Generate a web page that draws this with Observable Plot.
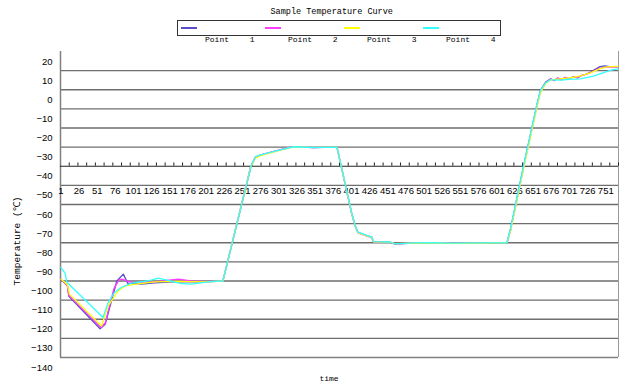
<!DOCTYPE html>
<html><head><meta charset="utf-8">
<script src="https://cdn.jsdelivr.net/npm/d3@7"></script>
<script src="https://cdn.jsdelivr.net/npm/@observablehq/plot@0.6"></script>
<style>
body{margin:0;background:#fff;}
#wrap{position:relative;width:622px;height:387px;overflow:hidden;}
#wrap svg{position:absolute;left:0;top:0;}
.abs{position:absolute;white-space:pre;color:#000;line-height:1;font-family:"Liberation Mono","DejaVu Sans Mono",monospace;}
.sw{position:absolute;height:2px;width:16px;}
</style></head><body><div id="wrap"></div>
<script>
const title = "Sample Temperature Curve";
const yTitle = "Temperature (℃)";
const xTitle = "time";
const seriesNames = ["Point 1", "Point 2", "Point 3", "Point 4"];
const seriesColors = ["#5a4ec8", "#ff3cff", "#ffff00", "#33ffff"];
const xDomain = [0.5, 768.5];
const yDomain = [-140, 20];
const xCross = -40;
const xLabels = d3.range(1, 752, 25);
const yTicks = d3.range(20, -141, -10);
const xTickMarks = d3.range(12.5, 769, 12);

const p1Idx = [1,6,10,12,55,62,78,87,93,100,112,130,150,175,200,224,263,269,276,303,321,335,349,365,381,401,406,410,422,429,431,445,454,461,486,509,540,580,615,620,638,656,661,668,675,680,685,690,695,700,706,712,718,724,730,737,743,750,758,768];
const p1Val = [-99,-101,-102.5,-108,-125,-122.6,-100,-96.4,-101.2,-101.2,-101.6,-101,-100.6,-100.3,-100.5,-100,-39.7,-35.3,-34.2,-31.5,-29.8,-30,-30.3,-30,-30,-64.1,-71.1,-74.6,-76.3,-77,-79.5,-79.4,-79.7,-80.7,-80.2,-80,-80.3,-80.2,-80,-72.8,-39.7,-8.3,-0.5,3.9,5.7,4.8,6.0,5.2,6.4,5.6,6.8,6.2,7.6,8.0,9.2,10.8,12.1,12.5,12.0,12.1];

const p2Idx = [1,6,10,12,56,62,74,81,85,92,100,130,150,163,180,200,224,262,268,276,303,321,349,381,401,406,410,422,429,431,454,461,486,509,540,580,615,620,638,656,661,668,675,680,685,690,695,700,706,712,718,724,730,743,753,768];
const p2Val = [-99,-101,-102.5,-107.5,-124.3,-122,-104,-99.4,-99,-100,-100.8,-100.5,-99.5,-99,-100,-100.3,-100,-40.5,-35.5,-34,-31.3,-29.7,-30.2,-30,-64.5,-71.3,-74.8,-76.5,-77.2,-79.6,-79.8,-80.6,-80.1,-80,-80.2,-80.1,-80,-73.5,-40.5,-9,-1,3.5,5.5,5.0,6.2,5.3,6.5,5.8,6.6,6.4,7.4,8.2,9.0,11.3,11.8,12.0];

const p3Idx = [1,6,10,13,57,66,80,90,104,130,160,200,224,262,268,276,303,321,349,381,401,406,410,422,429,431,454,461,486,509,540,580,615,620,638,656,661,668,675,685,695,705,716,730,743,753,768];
const p3Val = [-99,-100.5,-102,-107,-123.5,-113,-105.1,-102.5,-101.6,-100.5,-100.2,-100.5,-100,-40.8,-36,-34.5,-31.6,-29.9,-30.1,-30,-64.3,-71.2,-74.7,-76.4,-77.1,-79.5,-79.7,-80.5,-80.2,-80,-80.3,-80.2,-80,-73.8,-41,-9.5,-1.5,3.2,5.2,5.6,6.0,6.4,7.2,8.8,11.0,12.0,12.2];

const p4Idx = [1,7,9,59,66,75,84,98,112,125,135,150,165,180,196,210,224,263,269,276,303,321,349,381,401,406,410,422,429,431,454,461,486,509,540,580,615,620,638,656,661,668,675,690,700,716,734,757,768];
const p4Val = [-92.9,-96,-100.5,-119.1,-111.3,-106,-103.4,-101.1,-100.4,-99.5,-98.5,-99.8,-101.2,-101.6,-100.8,-100.2,-100,-39.5,-35,-34,-31.4,-29.8,-30.2,-30,-64,-71,-74.5,-76.2,-77,-79.4,-79.6,-80.6,-80.1,-80,-80.2,-80.1,-80,-72.5,-39.5,-8,-0.5,3.5,5.2,5.0,5.5,5.7,7.1,10.1,10.9];

const seriesIdx = [p1Idx, p2Idx, p3Idx, p4Idx];
const seriesVal = [p1Val, p2Val, p3Val, p4Val];
const rows = seriesIdx.map((ix, s) => ix.map((x, k) => ({x, y: seriesVal[s][k], s: seriesNames[s]})));

const gridY = yTicks.filter(v => v !== xCross && v !== yDomain[0] && v !== yDomain[1]);

const chart = Plot.plot({
  width: 622, height: 387,
  marginTop: 51, marginBottom: 30, marginLeft: 60, marginRight: 4,
  x: {domain: xDomain, axis: null},
  y: {domain: yDomain, axis: null},
  style: {background: "transparent", fontFamily: "'Liberation Sans', Arial, sans-serif"},
  marks: [
    Plot.ruleY(gridY, {y: d => d, stroke: "#6e6e6e", strokeWidth: 1.3}),
    Plot.ruleY([yDomain[0]], {y: d => d, stroke: "#808080", strokeWidth: 1.5}),
    Plot.ruleX([xDomain[0]], {x: d => d, stroke: "#808080", strokeWidth: 1.5}),
    Plot.ruleX([xDomain[1]], {x: d => d, stroke: "#9a9a9a", strokeWidth: 1}),
    Plot.ruleY([xCross], {y: d => d, stroke: "#222", strokeWidth: 1.2}),
    Plot.ruleX(xTickMarks, {x: d => d, y1: () => xCross, y2: () => xCross + 1.7, stroke: "#222", strokeWidth: 1}),
    Plot.text(xLabels, {x: d => d, y: () => xCross, text: d => String(d), dy: 25, fontSize: 9.5, fill: "#000"}),
    Plot.text(yTicks, {y: d => d, text: d => (d < 0 ? "\u2212" + Math.abs(d) : String(d)), frameAnchor: "left", textAnchor: "end", dx: -8, dy: 10, fontSize: 9.5, fill: "#000"}),
    ...rows.map((r, s) => Plot.line(r, {x: "x", y: "y", stroke: seriesColors[s], strokeWidth: 1.3}))
  ]
});
const wrap = document.getElementById("wrap");
wrap.appendChild(chart);

function addText(txt, left, top, size, extra) {
  const d = document.createElement("div");
  d.className = "abs";
  d.textContent = txt;
  d.style.left = left + "px";
  d.style.top = top + "px";
  d.style.fontSize = size + "px";
  if (extra) Object.assign(d.style, extra);
  wrap.appendChild(d);
  return d;
}
addText(title, 331.7, 12.3, 8.5, {transform: "translate(-50%,-50%)"});
addText(xTitle, 329, 379, 8, {transform: "translate(-50%,-50%)"});
addText(yTitle, 18.3, 241, 9.5, {transform: "translate(-50%,-50%) rotate(-90deg)"});

const box = document.createElement("div");
Object.assign(box.style, {position: "absolute", left: "177px", top: "20px", width: "322px", height: "14px", border: "1px solid #333", background: "#fff"});
wrap.appendChild(box);
const swLeft = [181, 265, 344, 423];
const lbLeft = [205, 288, 367, 446];
seriesNames.forEach((name, i) => {
  const sw = document.createElement("div");
  sw.className = "sw";
  Object.assign(sw.style, {left: swLeft[i] + "px", top: "26.5px", background: seriesColors[i]});
  wrap.appendChild(sw);
  addText(name, lbLeft[i], 35.5, 8, {wordSpacing: "16px"});
});
</script></body></html>
